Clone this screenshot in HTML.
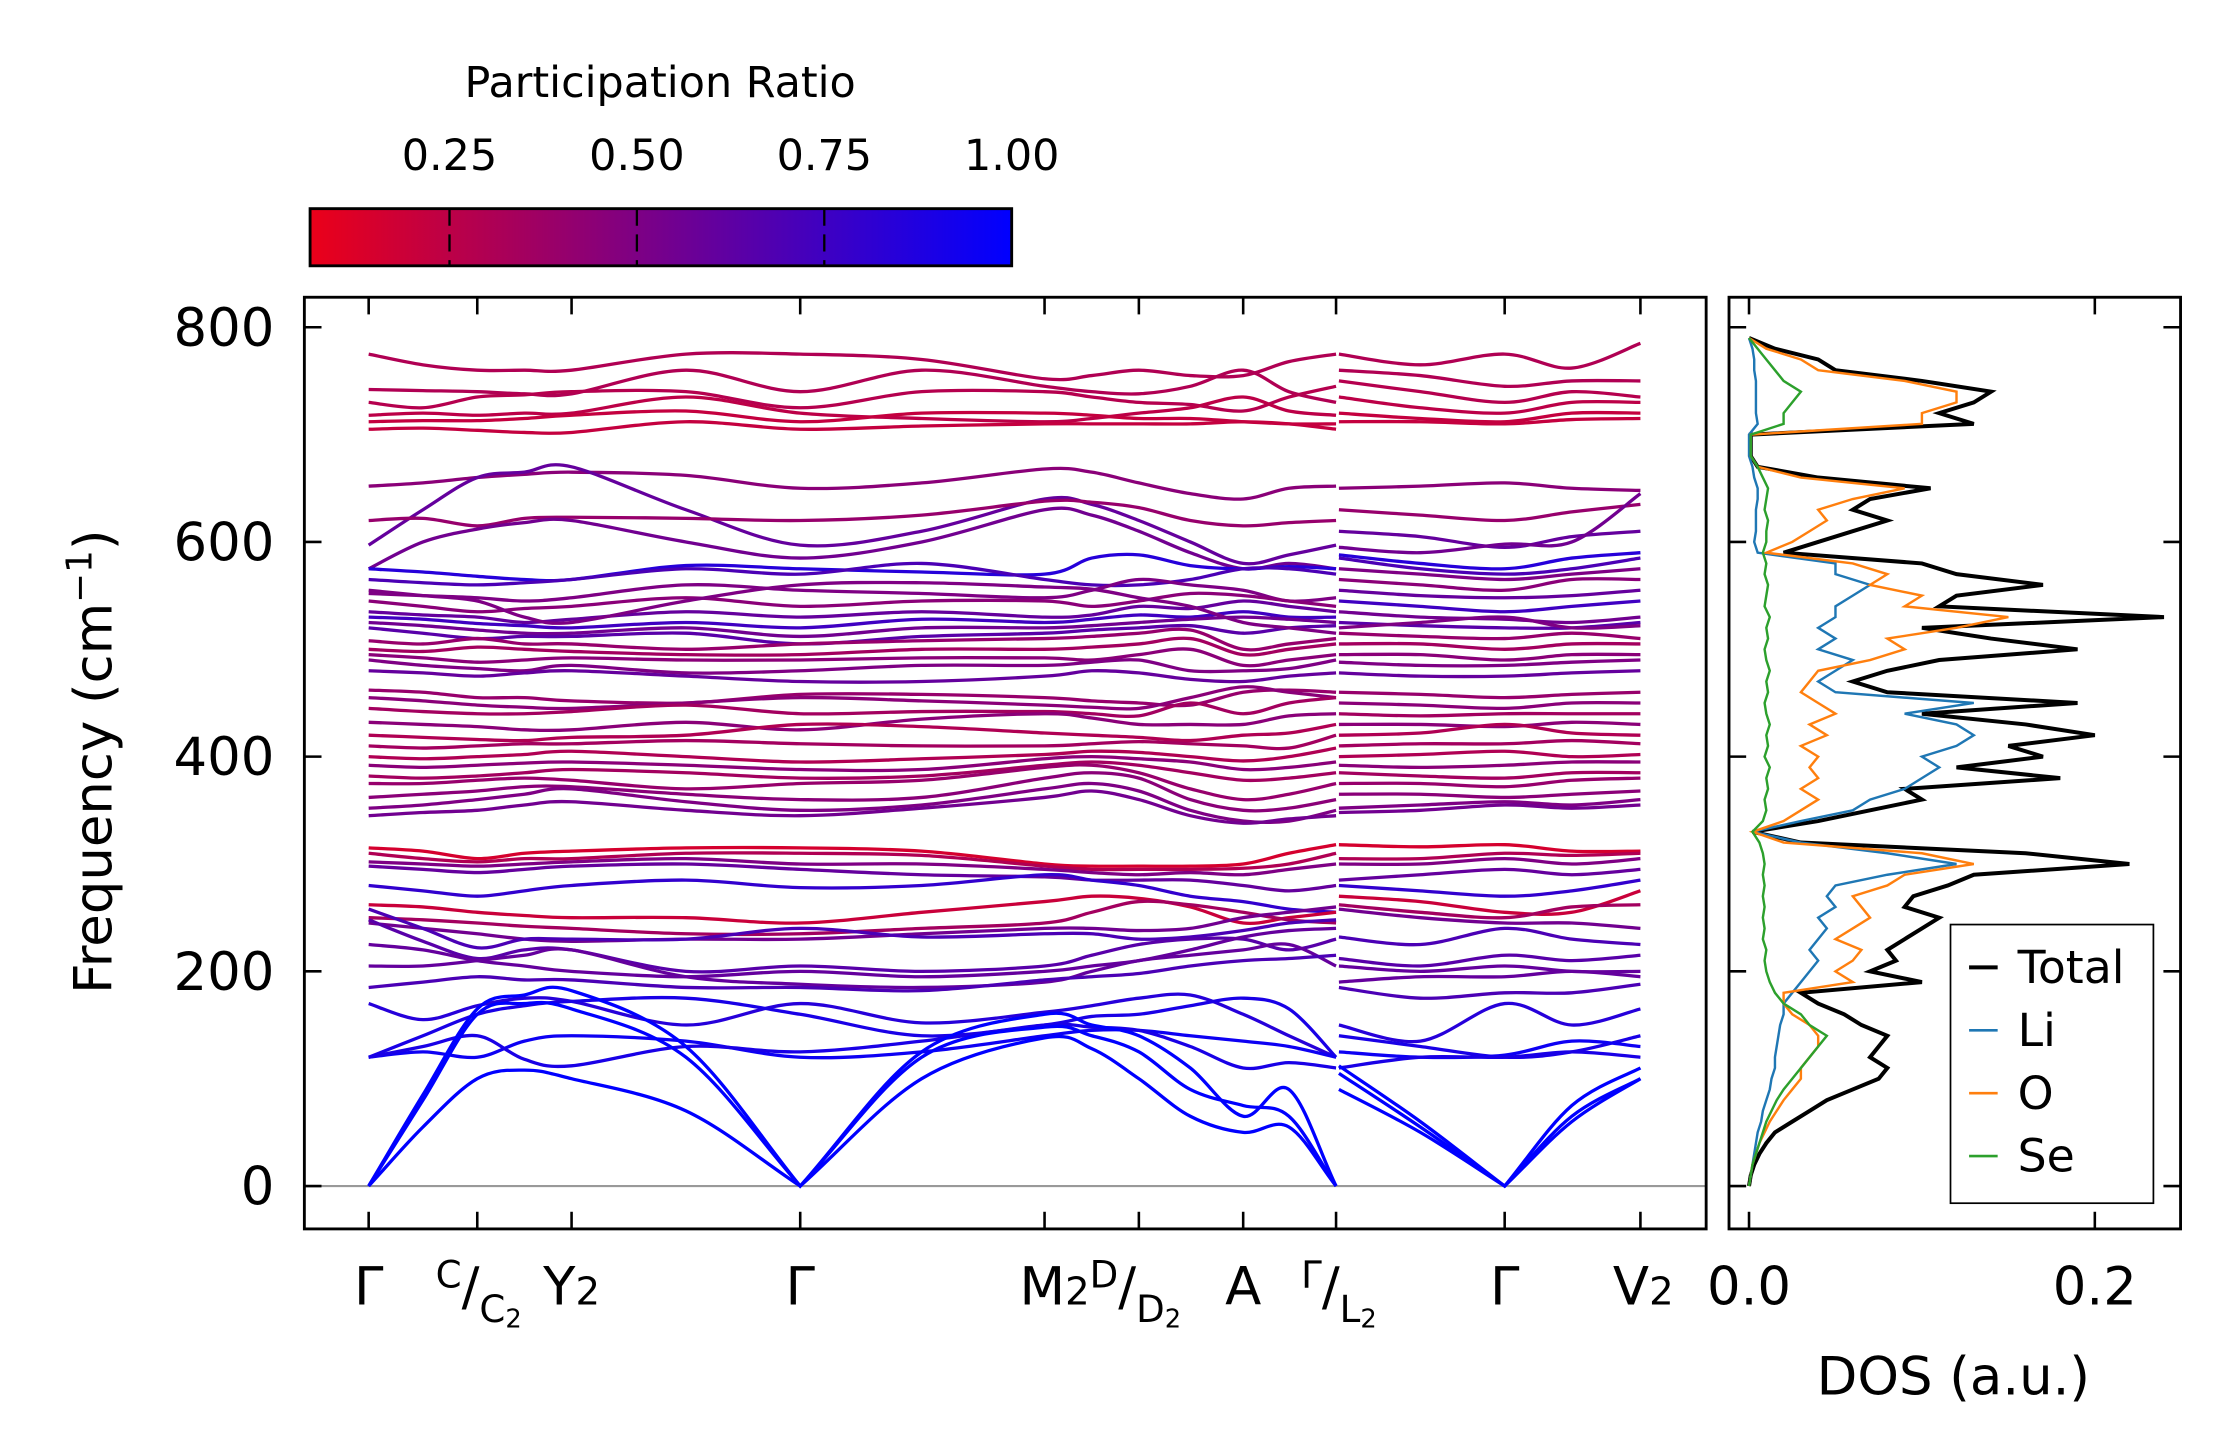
<!DOCTYPE html>
<html><head><meta charset="utf-8"><style>
html,body{margin:0;padding:0;background:#fff}
svg{display:block}
text{font-family:"DejaVu Sans","Liberation Sans",sans-serif;fill:#000}
</style></head><body>
<svg id="fig" width="2222" height="1455" viewBox="0 0 1555 1018.2" xmlns="http://www.w3.org/2000/svg">
<defs>
<linearGradient id="cbgrad" x1="0" x2="1" y1="0" y2="0">
<stop offset="0" stop-color="rgb(235,0,25)"/><stop offset="1" stop-color="rgb(0,0,255)"/>
</linearGradient>
<clipPath id="bandclip"><rect x="213" y="208" width="981" height="652"/></clipPath>
<clipPath id="dosclip"><rect x="1210" y="208" width="316" height="652"/></clipPath>
</defs>
<g id="colorbar">
<text x="462" y="68" font-size="30" text-anchor="middle">Participation Ratio</text>
<rect x="217" y="146" width="491" height="40" fill="url(#cbgrad)" stroke="#000" stroke-width="2"/>
</g>
<g id="bandax"></g>
<g id="dosax"></g>
</svg>
<script>
const kTickDist = [0, 0.76, 1.42, 3.02, 4.73, 5.39, 6.12, 6.77, 7.95, 8.90];
const kSampleP1 = [0,0.38,0.76,1.09,1.42,2.22,3.02,3.87,4.73,5.06,5.39,5.75,6.12,6.44,6.77];
const kSampleP2 = [6.77,7.36,7.95,8.42,8.90];
const freqTicks = [0,200,400,600,800];
const cbTicks = [0.25,0.50,0.75,1.00];
const dosTicks = [0.0,0.2];

const bandPR = [
 .3,.3,.28,.25,.22,.22,
 .45,.6,.4,.55,
 .85,.7,.5,.45,.6,.75,.55,.65,.4,.35,.45,.5,.6,.5,
 .4,.45,.35,.45,.3,.35,.3,.45,.35,.4,.45,.5,.55,
 .15,.3,.5,.6,.8,.2,.35,.55,
 .7,.65,.6,.6,.7,
 .85,.9,.95,.9,
 1,1,1];
const bandFreqs = [
[775,765,760,760,760,775,775,770,752,755,760,755,755,768,775, 775,765,775,762,785],
[742,741,740,738,738,760,740,760,745,740,738,745,760,740,730, 760,755,745,750,750],
[730,725,735,737,740,740,725,740,740,735,730,728,722,735,745, 750,740,730,740,735],
[718,720,718,720,720,735,720,715,712,715,720,725,735,722,718, 735,725,720,730,730],
[712,713,713,715,718,722,712,720,720,718,715,715,712,710,710, 720,715,712,720,720],
[705,706,704,702,702,712,705,708,710,710,710,710,712,710,705, 712,712,710,714,715],
[652,655,660,663,665,662,650,655,668,665,655,645,640,650,652, 650,652,655,650,648],
[597,630,660,665,670,630,597,610,640,635,620,600,580,588,597, 610,605,595,605,610],
[620,622,615,622,623,622,620,625,638,637,632,620,615,618,620, 630,625,620,628,635],
[575,600,612,618,620,600,585,600,630,625,610,590,575,580,575, 595,590,598,600,645],
[575,572,568,565,565,578,575,572,570,585,588,578,575,577,575, 588,580,575,585,590],
[565,562,560,562,565,575,570,580,565,560,560,565,575,575,570, 585,575,570,575,585],
[552,550,548,545,548,560,555,552,548,555,565,560,555,545,548, 575,570,565,570,575],
[545,540,535,538,540,548,540,545,545,540,545,552,550,545,540, 565,560,555,565,565],
[535,532,530,525,528,535,530,535,530,532,540,538,545,540,535, 555,550,548,550,555],
[530,528,524,522,520,525,520,528,525,528,532,530,535,530,530, 545,540,535,540,545],
[525,522,518,515,515,520,512,520,520,522,525,528,530,528,525, 535,530,528,525,530],
[520,515,510,512,512,515,505,512,515,518,520,522,515,520,522, 525,522,520,520,525],
[508,505,510,505,505,500,505,508,510,512,515,518,500,505,510, 515,512,510,515,510],
[500,498,502,500,498,495,495,500,500,502,505,510,495,500,505, 505,505,500,505,505],
[495,492,488,490,492,490,490,492,492,490,495,500,485,490,495, 495,495,490,495,495],
[490,485,482,480,485,478,480,485,485,488,490,480,480,482,490, 488,485,485,488,490],
[480,478,475,478,480,475,470,470,475,480,478,472,470,475,478, 478,475,475,478,480],
[555,550,545,530,525,545,560,562,558,556,548,540,525,520,515, 520,525,530,520,522],
[462,460,455,455,452,450,458,458,455,452,450,448,460,462,460, 460,458,455,458,460],
[455,452,448,446,445,450,455,452,448,446,445,455,465,460,455, 450,448,445,450,450],
[445,442,440,440,442,448,440,442,442,440,438,450,440,450,455, 440,438,440,440,440],
[432,430,428,425,425,432,425,435,440,436,430,430,430,438,440, 430,430,428,432,430],
[420,418,416,415,418,420,430,428,422,420,418,415,420,422,430, 420,422,430,422,420],
[410,408,410,412,412,415,412,410,410,412,414,412,410,408,420, 410,412,412,415,412],
[400,398,400,402,405,400,395,398,402,405,404,400,396,400,408, 400,402,405,400,402],
[392,390,392,394,395,392,388,388,398,400,398,395,388,390,395, 392,390,392,395,395],
[382,380,382,385,388,385,380,382,392,395,392,385,378,380,385, 385,382,380,385,385],
[375,375,378,380,378,370,375,378,390,392,385,370,360,365,375, 375,375,372,378,380],
[362,365,368,372,372,365,360,362,380,385,380,360,350,352,360, 365,365,362,365,368],
[352,355,360,365,370,358,350,355,370,375,368,350,340,340,350, 352,355,358,355,360],
[345,348,350,355,358,350,345,352,362,368,360,345,338,342,345, 348,350,355,352,355],
[315,312,305,310,312,315,315,312,300,298,298,298,300,310,318, 318,316,318,312,312],
[310,305,302,305,305,310,310,308,298,295,295,295,296,300,310, 305,305,310,308,310],
[302,300,298,300,302,305,300,300,295,292,290,292,290,295,300, 300,300,305,300,305],
[298,295,292,295,298,300,295,290,288,285,285,285,280,275,280, 285,290,295,290,295],
[280,275,270,275,280,285,278,280,290,285,280,270,265,258,255, 280,275,270,275,285],
[262,260,255,252,250,250,245,255,265,270,268,260,245,250,255, 270,265,255,255,275],
[250,248,245,242,240,235,235,240,245,255,265,262,255,248,245, 262,255,250,260,262],
[245,240,235,230,228,230,230,235,240,240,238,240,250,255,260, 258,250,245,245,240],
[258,240,222,230,230,230,240,232,235,235,230,232,238,245,248, 232,225,240,230,225],
[248,228,212,220,220,200,205,200,205,215,225,230,230,220,230, 212,205,215,210,215],
[225,220,210,205,200,195,200,195,200,205,210,220,232,238,240, 205,200,205,200,200],
[205,205,210,215,220,195,188,185,190,200,210,215,220,225,205, 190,195,195,200,195],
[185,190,195,192,192,185,185,182,192,195,198,205,210,212,215, 185,175,180,180,188],
[170,155,168,175,172,150,170,152,162,168,175,178,160,140,120, 150,135,170,150,165],
[120,140,160,168,172,175,160,140,150,158,160,168,175,165,120, 140,130,120,125,140],
[120,125,120,135,140,135,120,125,140,145,145,140,135,130,120, 125,120,122,135,130],
[120,130,140,118,112,130,125,135,150,148,145,130,110,115,110, 110,120,120,125,120],
[0,55,100,108,100,70,0,100,138,128,100,65,50,55,0, 90,50,0,60,100],
[0,80,160,170,165,120,0,120,148,140,125,90,75,65,0, 105,55,0,65,100],
[0,85,165,178,182,130,0,125,160,150,140,110,65,90,0, 112,60,0,75,110]
];

const dosFreq = [0,10,20,30,40,50,60,70,80,90,100,110,120,130,140,150,160,170,180,190,200,210,220,230,240,250,260,270,280,290,300,310,320,330,340,350,360,370,380,390,400,410,420,430,440,450,460,470,480,490,500,510,520,530,540,550,560,570,580,590,600,610,620,630,640,650,660,670,680,690,700,710,720,730,740,750,760,770,780,790];
const dosTotal = [0,0.001,0.003,0.006,0.01,0.015,0.025,0.035,0.045,0.06,0.075,0.08,0.07,0.075,0.08,0.065,0.055,0.04,0.03,0.1,0.07,0.085,0.08,0.09,0.1,0.11,0.09,0.095,0.115,0.13,0.22,0.16,0.03,0.002,0.04,0.07,0.1,0.09,0.18,0.12,0.17,0.15,0.2,0.16,0.1,0.19,0.08,0.06,0.08,0.11,0.19,0.14,0.1,0.24,0.11,0.12,0.17,0.12,0.1,0.02,0.04,0.06,0.08,0.06,0.07,0.105,0.04,0.005,0.001,0.001,0.001,0.13,0.11,0.13,0.14,0.1,0.05,0.04,0.015,0];
const dosLi = [0,0.001,0.002,0.003,0.004,0.005,0.007,0.008,0.01,0.012,0.013,0.015,0.015,0.016,0.017,0.018,0.02,0.02,0.025,0.03,0.035,0.04,0.035,0.04,0.045,0.04,0.05,0.045,0.05,0.08,0.12,0.08,0.03,0.002,0.03,0.06,0.07,0.09,0.1,0.11,0.1,0.12,0.13,0.12,0.09,0.13,0.05,0.04,0.05,0.06,0.04,0.05,0.04,0.05,0.05,0.06,0.07,0.05,0.05,0.005,0.003,0.004,0.004,0.004,0.005,0.005,0.003,0.002,0,0,0,0.005,0.004,0.004,0.004,0.004,0.003,0.003,0.002,0];
const dosO = [0,0.001,0.002,0.004,0.006,0.009,0.012,0.016,0.02,0.025,0.03,0.03,0.035,0.04,0.04,0.035,0.025,0.02,0.02,0.06,0.05,0.06,0.065,0.05,0.06,0.07,0.065,0.06,0.08,0.09,0.13,0.1,0.02,0.002,0.02,0.03,0.04,0.03,0.04,0.035,0.04,0.03,0.045,0.035,0.05,0.04,0.03,0.035,0.04,0.07,0.09,0.08,0.12,0.15,0.09,0.1,0.07,0.08,0.06,0.01,0.025,0.035,0.045,0.04,0.06,0.09,0.03,0.005,0.001,0.001,0.001,0.1,0.1,0.12,0.12,0.09,0.04,0.03,0.01,0];
const dosSe = [0,0.001,0.002,0.004,0.006,0.008,0.01,0.013,0.016,0.02,0.025,0.03,0.035,0.04,0.045,0.035,0.03,0.02,0.015,0.012,0.01,0.009,0.01,0.008,0.009,0.008,0.009,0.008,0.009,0.008,0.009,0.008,0.006,0.002,0.008,0.01,0.009,0.011,0.01,0.012,0.009,0.011,0.01,0.012,0.01,0.009,0.011,0.01,0.012,0.01,0.009,0.011,0.01,0.012,0.009,0.01,0.011,0.009,0.01,0.008,0.01,0.01,0.011,0.009,0.01,0.011,0.008,0.005,0.001,0.001,0.001,0.02,0.02,0.025,0.03,0.02,0.015,0.01,0.005,0];
const dosSeriesNames = ["Total","Li","O","Se"];
const dosSeriesColors = ["#000000","#1f77b4","#ff7f0e","#2ca02c"];

const NS="http://www.w3.org/2000/svg";
const yF = f => 830 - f*0.75125;
const xK = k => 258 + (k/8.90)*(1148-258);
const xD = v => 1224 + v*1210;
const xCB = p => 217 + (p-0.064)/(1-0.064)*491;
function mk(tag, attrs, parent){const e=document.createElementNS(NS,tag);for(const k in attrs)e.setAttribute(k,attrs[k]);parent.appendChild(e);return e;}
function prColor(p){const t=Math.max(0,Math.min(1,(p-0.064)/(1-0.064)));return `rgb(${Math.round(235*(1-t))},0,${Math.round(25+230*t)})`;}
// spline with sharp corners at zero-frequency points
function spline(pts, vals){
 const n=pts.length, tin=[], tout=[];
 for(let i=0;i<n;i++){
  const p0=pts[Math.max(0,i-1)],p2=pts[Math.min(n-1,i+1)];
  if(vals[i]===0){
   const a=pts[Math.max(0,i-1)], b=pts[Math.min(n-1,i+1)], p=pts[i];
   tin.push([(p[0]-a[0])/3,(p[1]-a[1])/3]);
   tout.push([(b[0]-p[0])/3,(b[1]-p[1])/3]);
  } else {
   const t=[(p2[0]-p0[0])/6,(p2[1]-p0[1])/6];
   tin.push(t);tout.push(t);
  }
 }
 let d=`M${pts[0][0].toFixed(2)},${pts[0][1].toFixed(2)}`;
 for(let i=0;i<n-1;i++){const p1=pts[i],p2=pts[i+1];
  const c1=[p1[0]+tout[i][0],p1[1]+tout[i][1]],c2=[p2[0]-tin[i+1][0],p2[1]-tin[i+1][1]];
  d+=`C${c1[0].toFixed(2)},${c1[1].toFixed(2)} ${c2[0].toFixed(2)},${c2[1].toFixed(2)} ${p2[0].toFixed(2)},${p2[1].toFixed(2)}`;}
 return d;}

const cb=document.getElementById('colorbar');
cbTicks.forEach(t=>{const x=xCB(t);
 const l=mk('line',{x1:x,x2:x,y1:146,y2:186,stroke:'#000','stroke-width':1.6,'stroke-dasharray':'12,6'},cb);
 
 
 const tx=mk('text',{x:x,y:119,'font-size':30,'text-anchor':'middle'},cb);
 tx.textContent=t.toFixed(2);
 
 
});

const bax=document.getElementById('bandax');
const bandG=mk('g',{'clip-path':'url(#bandclip)'},bax);
mk('line',{x1:213,x2:1194,y1:yF(0),y2:yF(0),stroke:'#999','stroke-width':1.5},bandG);
bandFreqs.forEach((b,i)=>{
 const c=prColor(bandPR[i]);
 const v1=b.slice(0,15), v2=b.slice(15);
 const p1=kSampleP1.map((k,j)=>[xK(k),yF(v1[j])]);
 const p2=kSampleP2.map((k,j)=>[xK(k)+(j==0?2:0),yF(v2[j])]);
 const a=mk('path',{d:spline(p1,v1),fill:'none',stroke:c,'stroke-width':2.3},bandG);
 
 
 const b2=mk('path',{d:spline(p2,v2),fill:'none',stroke:c,'stroke-width':2.3},bandG);
 
 
});
mk('rect',{x:213,y:208,width:981,height:652,fill:'none',stroke:'#000','stroke-width':2},bax);
kTickDist.forEach(k=>{const x=xK(k);
 mk('line',{x1:x,x2:x,y1:860,y2:848,stroke:'#000','stroke-width':1.8},bax);
 mk('line',{x1:x,x2:x,y1:208,y2:220,stroke:'#000','stroke-width':1.8},bax);});
freqTicks.forEach(f=>{const y=yF(f);
 mk('line',{x1:213,x2:225,y1:y,y2:y,stroke:'#000','stroke-width':1.8},bax);
 const t=mk('text',{x:192,y:y+13,'font-size':37,'text-anchor':'end'},bax);
 t.textContent=f;
 
 });
const ylab=mk('text',{x:0,y:0,'font-size':37,'text-anchor':'middle',transform:'translate(78,533) rotate(-90)'},bax);
ylab.innerHTML='Frequency (cm<tspan dy="-14" font-size="25">−1</tspan><tspan dy="14">)</tspan>';


function addText(x,html){const t=mk('text',{x:x,y:913,'font-size':37,'text-anchor':'middle'},bax);
 t.innerHTML=html;
 
 
 return t;}
addText(258,'Γ');
addText(335,'<tspan font-size="26" dy="-12">C</tspan><tspan dy="12">/</tspan><tspan font-size="26" dy="12">C</tspan><tspan font-size="18" dy="4">2</tspan>');
addText(400,'Y<tspan font-size="27">2</tspan>');
addText(560,'Γ');
addText(770,'M<tspan font-size="27">2</tspan><tspan font-size="26" dy="-12">D</tspan><tspan dy="12">/</tspan><tspan font-size="26" dy="12">D</tspan><tspan font-size="18" dy="4">2</tspan>');
addText(870,'A');
addText(937,'<tspan font-size="26" dy="-12">Γ</tspan><tspan dy="12">/</tspan><tspan font-size="26" dy="12">L</tspan><tspan font-size="18" dy="4">2</tspan>');
addText(1053,'Γ');
addText(1150,'V<tspan font-size="27">2</tspan>');

const dax=document.getElementById('dosax');
const dG=mk('g',{'clip-path':'url(#dosclip)'},dax);
[dosTotal,dosLi,dosO,dosSe].forEach((s,i)=>{
 const pts=dosFreq.map((f,j)=>`${xD(s[j]).toFixed(2)},${yF(f).toFixed(2)}`).join(' ');
 const pl=mk('polyline',{points:pts,fill:'none',stroke:dosSeriesColors[i],'stroke-width':i==0?2.8:1.7},dG);
 
 
});
mk('rect',{x:1210,y:208,width:316,height:652,fill:'none',stroke:'#000','stroke-width':2},dax);
freqTicks.forEach(f=>{const y=yF(f);
 mk('line',{x1:1210,x2:1222,y1:y,y2:y,stroke:'#000','stroke-width':1.8},dax);
 mk('line',{x1:1526,x2:1514,y1:y,y2:y,stroke:'#000','stroke-width':1.8},dax);});
dosTicks.forEach(v=>{const x=xD(v);
 mk('line',{x1:x,x2:x,y1:860,y2:848,stroke:'#000','stroke-width':1.8},dax);
 mk('line',{x1:x,x2:x,y1:208,y2:220,stroke:'#000','stroke-width':1.8},dax);
 const t=mk('text',{x:x,y:913,'font-size':37,'text-anchor':'middle'},dax);
 t.textContent=v.toFixed(1);
 
 });
const dl=mk('text',{x:1367,y:976,'font-size':37,'text-anchor':'middle'},dax);
dl.textContent='DOS (a.u.)';


const lg=mk('g',{},dax);


mk('rect',{x:1365,y:647,width:142,height:195,fill:'#fff',stroke:'#000','stroke-width':1.2},lg);
dosSeriesNames.forEach((n,i)=>{const y=677+i*44;
 const g=mk('g',{},lg);
 
 
 mk('line',{x1:1378,x2:1398,y1:y,y2:y,stroke:dosSeriesColors[i],'stroke-width':i==0?2.8:1.8},g);
 const t=mk('text',{x:1412,y:y+11,'font-size':32},g);
 t.textContent=n;});
</script>
</body></html>
